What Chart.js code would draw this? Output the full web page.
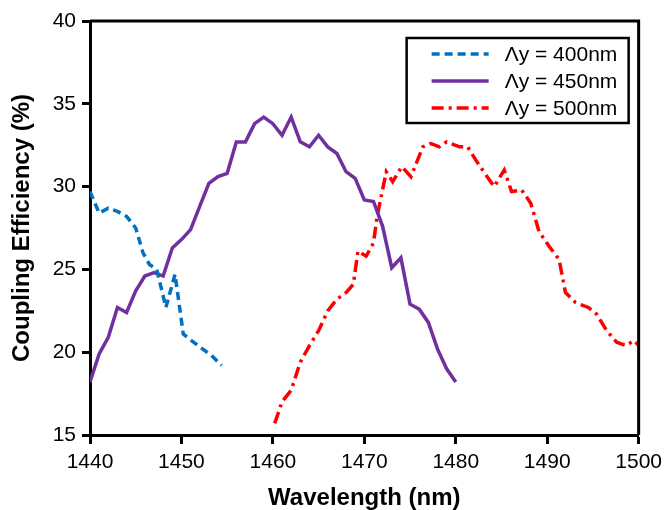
<!DOCTYPE html>
<html>
<head>
<meta charset="utf-8">
<script src="https://cdn.jsdelivr.net/npm/chart.js@4.4.1/dist/chart.umd.min.js"></script>
<style>
  html, body { margin: 0; padding: 0; background: #fff; }
  #wrap { width: 668px; height: 510px; }
</style>
</head>
<body>
<div id="wrap"><canvas id="myChart" width="668" height="510"></canvas></div>
<script>
// coupling efficiency vs wavelength for three grating periods
const wl400 = [1440, 1441, 1442, 1443, 1444, 1445, 1445.8, 1446.5, 1447.3, 1448.3, 1449.3, 1450.2, 1451.1, 1452.3, 1453.3, 1454.4];
const ce400 = [29.7, 28.4, 28.7, 28.5, 28.2, 27.5, 26.0, 25.3, 25.0, 22.7, 24.7, 21.1, 20.7, 20.2, 19.8, 19.2];

const wl450 = [1440, 1441, 1442, 1443, 1444, 1445, 1446, 1447, 1448, 1449, 1450, 1451, 1452, 1453, 1454, 1455,
  1456, 1457, 1458, 1459, 1460, 1461, 1462, 1463, 1464, 1465, 1466, 1467, 1468, 1469, 1470,
  1471, 1472, 1473, 1474, 1475, 1476, 1477, 1478, 1479, 1480];
const ce450 = [18.2, 19.9, 20.9, 22.7, 22.4, 23.7, 24.6, 24.8, 24.6, 26.3, 26.8, 27.4, 28.8, 30.2, 30.6, 30.8,
  32.7, 32.7, 33.8, 34.2, 33.8, 33.1, 34.2, 32.7, 32.4, 33.1, 32.4, 32.0, 30.9, 30.5, 29.2,
  29.1, 27.6, 25.1, 25.7, 22.9, 22.6, 21.8, 20.2, 19.0, 18.2];

const wl500 = [1460.2, 1461, 1462, 1463, 1464, 1465, 1466, 1467, 1468, 1468.8, 1469.3, 1470.2, 1471, 1471.4,
  1472.4, 1473.1, 1474.1, 1475.1, 1476.4, 1477.3, 1478.2, 1479, 1480.4, 1481.3, 1482.2, 1483.3,
  1484.2, 1485.3, 1486.1, 1487.2, 1488.2, 1489.1, 1490.2, 1491.3, 1492, 1493.1, 1494.5, 1495.4,
  1496.5, 1497.6, 1498.6, 1499.5, 1500];
const ce500 = [15.7, 17.0, 17.7, 19.4, 20.4, 21.3, 22.5, 23.2, 23.6, 24.1, 26.1, 25.8, 26.6, 28.2,
  30.9, 30.3, 31.2, 30.6, 32.4, 32.6, 32.4, 32.7, 32.4, 32.4, 31.6, 30.7,
  30.0, 31.0, 29.7, 29.8, 29.0, 27.3, 26.4, 25.6, 23.6, 23.0, 22.7, 22.3,
  21.3, 20.6, 20.4, 20.7, 20.4];

const seriesLabels = ['Λy = 400nm', 'Λy = 450nm', 'Λy = 500nm'];
const xTicks = [1440, 1450, 1460, 1470, 1480, 1490, 1500];
const yTicks = [15, 20, 25, 30, 35, 40];

const pts = (xs, ys) => xs.map((x, i) => ({ x: x, y: ys[i] }));
const FONT = '"Liberation Sans", Arial, sans-serif';

// legend box drawn inside the plot, top right
const boxLegend = {
  id: 'boxLegend',
  afterDraw(chart) {
    const ctx = chart.ctx;
    const ca = chart.chartArea;
    const right = ca.right - 10, top = ca.top + 17;
    const w = 222, h = 85;
    const left = right - w;
    ctx.save();
    ctx.fillStyle = '#fff';
    ctx.fillRect(left, top, w, h);
    ctx.strokeStyle = '#000';
    ctx.lineWidth = 2.5;
    ctx.strokeRect(left, top, w, h);
    ctx.font = '21px ' + FONT;
    ctx.textBaseline = 'middle';
    ctx.fillStyle = '#000';
    chart.data.datasets.forEach((ds, i) => {
      const y = top + 16 + i * 27;
      ctx.beginPath();
      ctx.setLineDash(ds.borderDash || []);
      ctx.strokeStyle = ds.borderColor;
      ctx.lineWidth = ds.borderWidth;
      ctx.moveTo(left + 25, y);
      ctx.lineTo(left + 82, y);
      ctx.stroke();
      ctx.setLineDash([]);
      ctx.fillText(ds.label, left + 98, y + 1);
    });
    ctx.restore();
  }
};

// top and right edges of the plot frame
const frame = {
  id: 'frame',
  afterDatasetsDraw(chart) {
    const ctx = chart.ctx;
    const ca = chart.chartArea;
    ctx.save();
    ctx.strokeStyle = '#000';
    ctx.lineWidth = 3;
    ctx.beginPath();
    ctx.moveTo(ca.left, ca.top);
    ctx.lineTo(ca.right, ca.top);
    ctx.lineTo(ca.right, ca.bottom);
    ctx.stroke();
    ctx.restore();
  }
};

new Chart(document.getElementById('myChart').getContext('2d'), {
  type: 'line',
  data: {
    datasets: [
      {
        label: seriesLabels[0],
        data: pts(wl400, ce400),
        borderColor: '#0070C0',
        borderWidth: 3.5,
        borderDash: [8, 5]
      },
      {
        label: seriesLabels[1],
        data: pts(wl450, ce450),
        borderColor: '#7030A0',
        borderWidth: 3.5
      },
      {
        label: seriesLabels[2],
        data: pts(wl500, ce500),
        borderColor: '#FF0000',
        borderWidth: 3.5,
        borderDash: [12, 5, 3, 5]
      }
    ]
  },
  options: {
    responsive: false,
    animation: false,
    events: [],
    elements: { point: { radius: 0 }, line: { tension: 0, fill: false } },
    layout: { padding: { top: 21, right: 26, left: 0, bottom: 0 } },
    plugins: { legend: { display: false }, tooltip: { enabled: false } },
    scales: {
      x: {
        type: 'linear',
        min: 1440,
        max: 1500,
        afterBuildTicks: s => { s.ticks = xTicks.map(v => ({ value: v })); },
        afterFit: s => { s.height = 75; },
        grid: { drawOnChartArea: false, drawTicks: true, tickLength: 9, tickWidth: 3, tickColor: '#000' },
        border: { display: true, color: '#000', width: 3 },
        ticks: {
          color: '#000', padding: 6, maxRotation: 0,
          callback: v => String(v),
          font: { family: FONT, size: 21 }
        },
        title: {
          display: true,
          text: 'Wavelength (nm)',
          color: '#000',
          padding: { top: 0, bottom: 0 },
          font: { family: FONT, size: 24, weight: 'bold', lineHeight: 1 }
        }
      },
      y: {
        min: 15,
        max: 40,
        afterBuildTicks: s => { s.ticks = yTicks.map(v => ({ value: v })); },
        afterFit: s => { s.width = 90; },
        grid: { drawOnChartArea: false, drawTicks: true, tickLength: 8, tickWidth: 3, tickColor: '#000' },
        border: { display: true, color: '#000', width: 3 },
        ticks: { color: '#000', padding: 6, font: { family: FONT, size: 21 } },
        title: {
          display: true,
          text: 'Coupling Efficiency (%)',
          color: '#000',
          padding: { top: 10, bottom: 0 },
          font: { family: FONT, size: 24, weight: 'bold', lineHeight: 1 }
        }
      }
    }
  },
  plugins: [frame, boxLegend]
});
</script>
</body>
</html>
